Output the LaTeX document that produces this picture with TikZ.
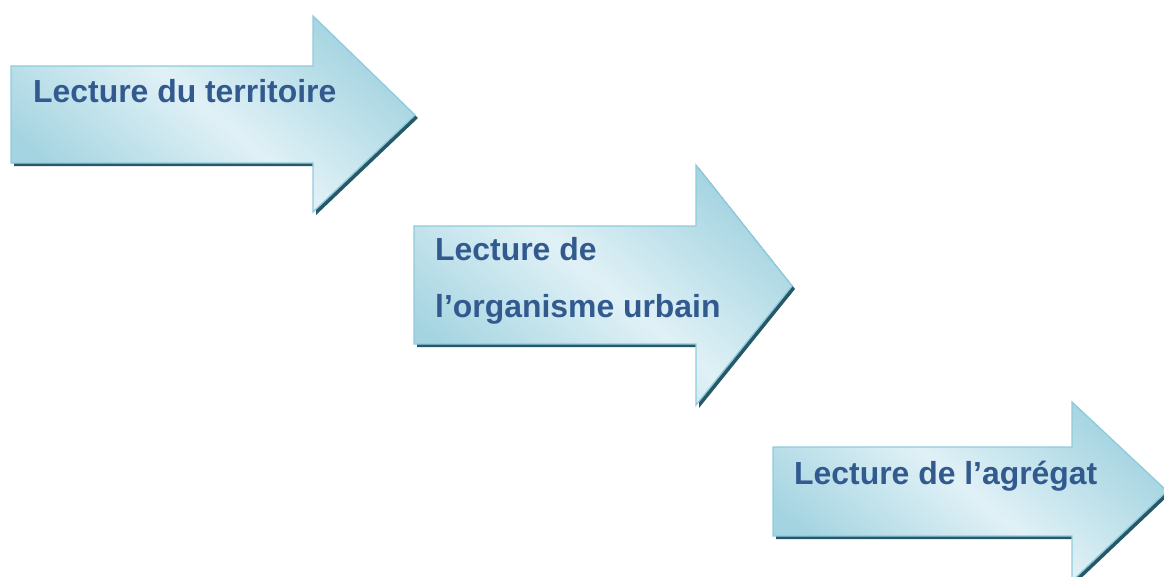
\documentclass[tikz,border=0pt]{standalone}
\usepackage{fontspec}
\setmainfont{Liberation Sans}
\definecolor{edgeblue}{RGB}{143,203,219}
\definecolor{darkfill}{RGB}{164,212,225}
\definecolor{lightfill}{RGB}{224,241,246}
\definecolor{shadowteal}{RGB}{38,88,104}
\definecolor{textblue}{RGB}{50,90,143}
\tikzset{
  arrowbody/.style={draw=edgeblue, line width=1.3pt, line join=miter,
    top color=darkfill, bottom color=darkfill, middle color=lightfill, shading angle=-40},
  arrowshadow/.style={fill=shadowteal},
  lbl/.style={font=\bfseries\fontsize{31.9}{36}\selectfont, text=textblue, anchor=base west, inner sep=0pt}
}
% #1 x0, #2 ytop, #3 ybot, #4 xhead, #5 yheadtop, #6 yheadbot, #7 xtip, #8 ytip
\newcommand\bigarrow[8]{%
  \fill[arrowshadow, shift={(3,3)}] (#1,#2) -- (#4,#2) -- (#4,#5) -- (#7,#8) -- (#4,#6) -- (#4,#3) -- (#1,#3) -- cycle;
  \path[arrowbody] (#1,#2) -- (#4,#2) -- (#4,#5) -- (#7,#8) -- (#4,#6) -- (#4,#3) -- (#1,#3) -- cycle;
}
\begin{document}
\begin{tikzpicture}[x=1pt,y=-1pt]
\useasboundingbox (0,0) rectangle (1164,576);
\clip (0,0) rectangle (1164,576);
\bigarrow{11}{66}{163}{313}{16}{212}{415}{115}
\bigarrow{414}{226}{344}{696}{165}{405}{792}{286}
\bigarrow{773}{447}{536}{1072}{402}{581}{1167}{491}
\node[lbl] (t1) at (33,102.5) {Lecture du territoire};
\node[lbl] (t2a) at (435,260.5) {Lecture de};
\node[lbl] (t2b) at (435,317.5) {l’organisme urbain};
\node[lbl] (t3) at (794,484) {Lecture de l’agrégat};
\end{tikzpicture}
\end{document}
